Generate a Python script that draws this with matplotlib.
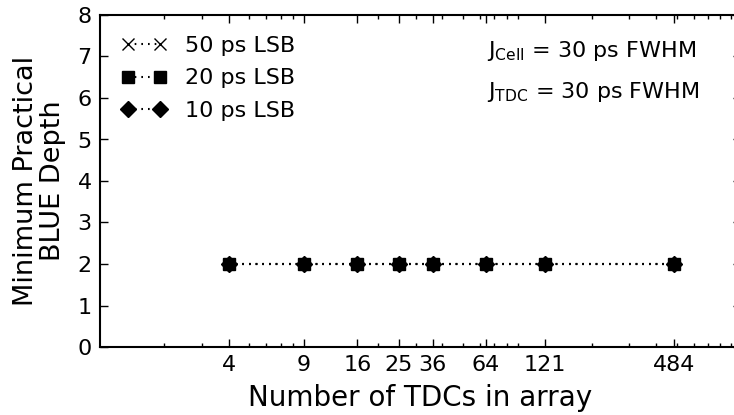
import matplotlib
matplotlib.use("Agg")
import matplotlib.pyplot as plt
from matplotlib.ticker import FixedLocator, FixedFormatter, LogLocator, NullFormatter

# Array sizes (number of TDCs) and minimum practical BLUE depth per LSB setting
tdc_counts = [4, 9, 16, 25, 36, 64, 121, 484]
tick_labels = ["4", "9", "16", "25", "36", "64", "121", "484"]
depth_50ps = [2, 2, 2, 2, 2, 2, 2, 2]
depth_20ps = [2, 2, 2, 2, 2, 2, 2, 2]
depth_10ps = [2, 2, 2, 2, 2, 2, 2, 2]
series_labels = ["50 ps LSB", "20 ps LSB", "10 ps LSB"]

W, H = 734, 415
fig = plt.figure(figsize=(W / 100, H / 100), dpi=100)
ax = fig.add_axes([100 / W, 68 / H, 641 / W, 332 / H])

dots = (0, (0.8, 2.4))
ax.plot(tdc_counts, depth_50ps, linestyle=dots, color="black", marker="x",
        markersize=9, markeredgewidth=1.0, linewidth=1.5, label=series_labels[0])
ax.plot(tdc_counts, depth_20ps, linestyle=dots, color="black", marker="s",
        markersize=8.5, linewidth=1.5, label=series_labels[1])
ax.plot(tdc_counts, depth_10ps, linestyle=dots, color="black", marker="D",
        markersize=8, linewidth=1.5, label=series_labels[2])

ax.set_xscale("log")
ax.set_xlim(1, 1000)
ax.set_ylim(0, 8)
ax.xaxis.set_major_locator(FixedLocator(tdc_counts))
ax.xaxis.set_major_formatter(FixedFormatter(tick_labels))
ax.xaxis.set_minor_locator(LogLocator(base=10, subs=range(2, 10), numticks=20))
ax.xaxis.set_minor_formatter(NullFormatter())
ax.set_yticks(range(0, 9))

ax.tick_params(which="both", direction="in", top=True, right=True,
               labelsize=16, width=1)
ax.tick_params(which="major", length=6, pad=6)
ax.tick_params(which="minor", length=3)
for sp in ax.spines.values():
    sp.set_linewidth(1.5)

ax.set_xlabel("Number of TDCs in array", fontsize=20, labelpad=6)
ax.set_ylabel("Minimum Practical\nBLUE Depth", fontsize=19.5, labelpad=8,
              linespacing=1.05)

ax.legend(loc="upper left", frameon=False, numpoints=2, fontsize=16,
          handlelength=2.04, handletextpad=0.85, labelspacing=0.55,
          borderaxespad=0.5, borderpad=0.45)

fig.text(487 / W, 1 - 57 / H, r"J$_{\mathrm{Cell}}$ = 30 ps FWHM",
         fontsize=16, va="baseline")
fig.text(487 / W, 1 - 98 / H, r"J$_{\mathrm{TDC}}$ = 30 ps FWHM",
         fontsize=16, va="baseline")

fig.savefig("out.png", dpi=100)
